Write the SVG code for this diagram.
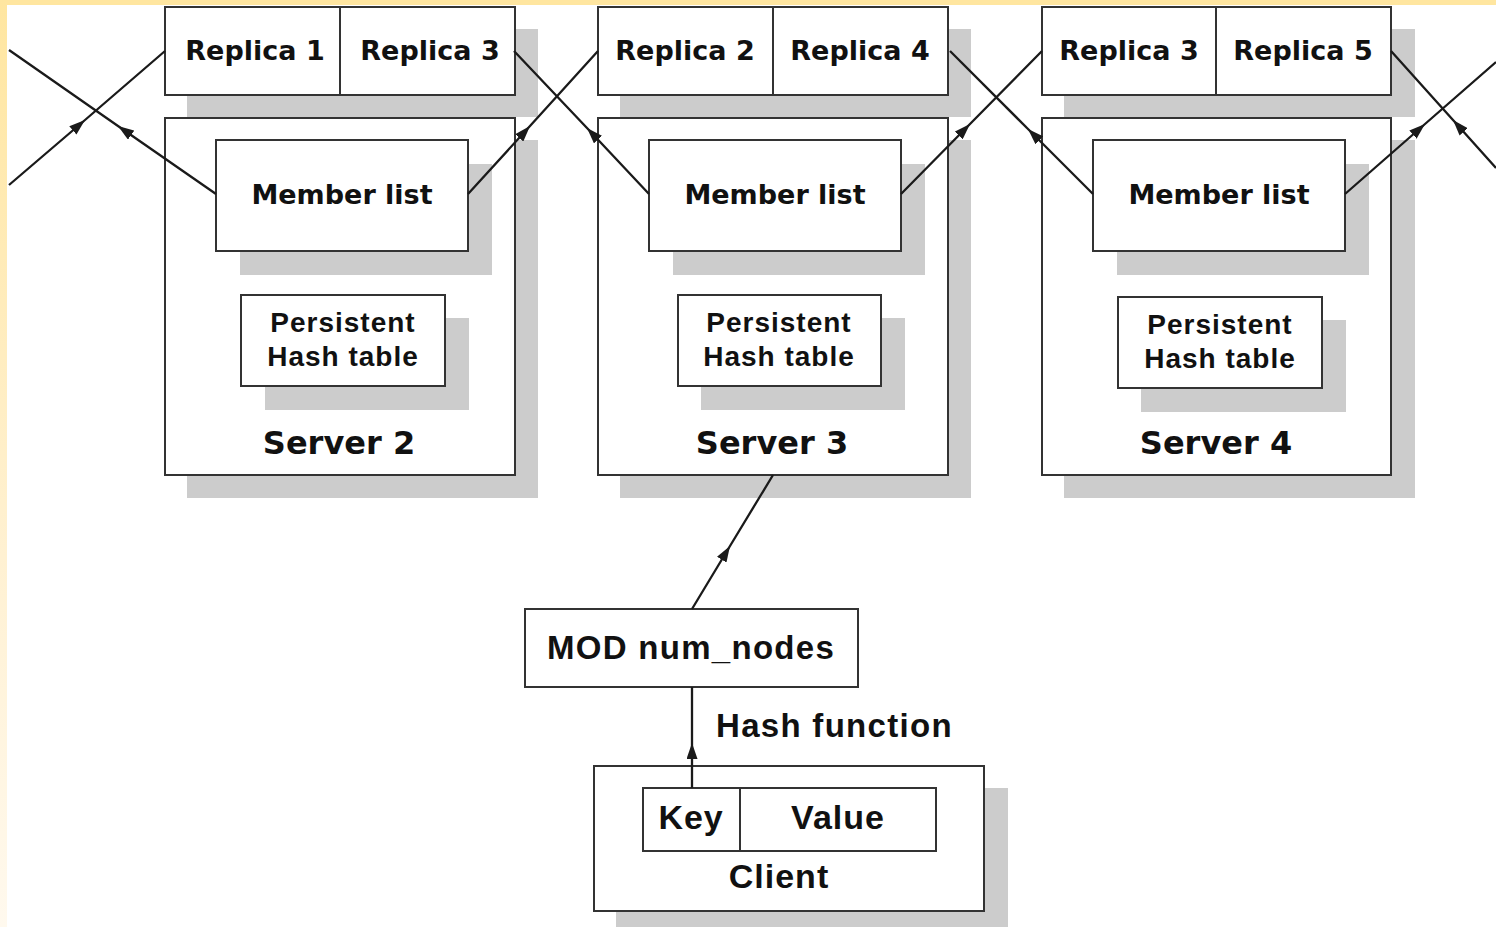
<svg xmlns="http://www.w3.org/2000/svg" width="1496" height="927" viewBox="0 0 1496 927">
<defs>
<linearGradient id="lg" x1="0" y1="0" x2="0" y2="1">
<stop offset="0" stop-color="#FFE6A0"/>
<stop offset="0.6" stop-color="#FFF1D2"/>
<stop offset="1" stop-color="#FFF9EE"/>
</linearGradient>
<marker id="ah" viewBox="0 0 16 11" markerWidth="16" markerHeight="11" refX="16" refY="5.5" orient="auto" markerUnits="userSpaceOnUse">
<path d="M0,0 L16,5.5 L0,11 z" fill="#1a1a1a"/>
</marker>
</defs>
<style>
.box{fill:#fff;stroke:#333;stroke-width:2}
.sh{fill:#cccccc}
.v{font-family:"DejaVu Sans",Verdana,sans-serif;font-weight:bold;fill:#111;text-anchor:middle}
.a{font-family:"Liberation Sans",Arial,sans-serif;font-weight:bold;fill:#111;text-anchor:middle}
.ln{fill:none;stroke:#1a1a1a;stroke-width:2.3;marker-mid:url(#ah)}
</style>
<rect width="1496" height="927" fill="#fff"/>
<rect x="0" y="0" width="1496" height="5" fill="#FFE6A0"/>
<rect x="0" y="0" width="7" height="927" fill="url(#lg)"/>

<g id="server2">
<rect class="sh" x="187" y="29" width="351" height="88"/>
<rect class="sh" x="187" y="140" width="351" height="358"/>
<rect class="box" x="165" y="118" width="350" height="357"/>
<rect class="box" x="165" y="7" width="175" height="88"/>
<rect class="box" x="340" y="7" width="175" height="88"/>
<text class="v" x="255" y="60" font-size="27">Replica 1</text>
<text class="v" x="430" y="60" font-size="27">Replica 3</text>
<rect class="sh" x="240" y="164" width="252" height="111"/>
<rect class="box" x="216" y="140" width="252" height="111"/>
<text class="v" x="342" y="204" font-size="27">Member list</text>
<rect class="sh" x="265" y="318" width="204" height="92"/>
<rect class="box" x="241" y="295" width="204" height="91"/>
<text class="a" x="343" y="332" font-size="28" letter-spacing="1">Persistent</text>
<text class="a" x="343" y="366" font-size="28" letter-spacing="1">Hash table</text>
<text class="v" x="339" y="454" font-size="32">Server 2</text>
</g>

<g id="server3">
<rect class="sh" x="620" y="29" width="351" height="88"/>
<rect class="sh" x="620" y="140" width="351" height="358"/>
<rect class="box" x="598" y="118" width="350" height="357"/>
<rect class="box" x="598" y="7" width="175" height="88"/>
<rect class="box" x="773" y="7" width="175" height="88"/>
<text class="v" x="685" y="60" font-size="27">Replica 2</text>
<text class="v" x="860" y="60" font-size="27">Replica 4</text>
<rect class="sh" x="673" y="164" width="252" height="111"/>
<rect class="box" x="649" y="140" width="252" height="111"/>
<text class="v" x="775" y="204" font-size="27">Member list</text>
<rect class="sh" x="701" y="318" width="204" height="92"/>
<rect class="box" x="678" y="295" width="203" height="91"/>
<text class="a" x="779" y="332" font-size="28" letter-spacing="1">Persistent</text>
<text class="a" x="779" y="366" font-size="28" letter-spacing="1">Hash table</text>
<text class="v" x="772" y="454" font-size="32">Server 3</text>
</g>

<g id="server4">
<rect class="sh" x="1064" y="29" width="351" height="88"/>
<rect class="sh" x="1064" y="140" width="351" height="358"/>
<rect class="box" x="1042" y="118" width="349" height="357"/>
<rect class="box" x="1042" y="7" width="174" height="88"/>
<rect class="box" x="1216" y="7" width="175" height="88"/>
<text class="v" x="1129" y="60" font-size="27">Replica 3</text>
<text class="v" x="1303" y="60" font-size="27">Replica 5</text>
<rect class="sh" x="1117" y="164" width="252" height="111"/>
<rect class="box" x="1093" y="140" width="252" height="111"/>
<text class="v" x="1219" y="204" font-size="27">Member list</text>
<rect class="sh" x="1141" y="320" width="205" height="92"/>
<rect class="box" x="1118" y="297" width="204" height="91"/>
<text class="a" x="1220" y="334" font-size="28" letter-spacing="1">Persistent</text>
<text class="a" x="1220" y="368" font-size="28" letter-spacing="1">Hash table</text>
<text class="v" x="1216" y="454" font-size="32">Server 4</text>
</g>

<g id="mod">
<rect class="box" x="525" y="609" width="333" height="78"/>
<text class="a" x="691" y="659" font-size="33" letter-spacing="1.3">MOD num_nodes</text>
</g>

<g id="hashlabel">
<text class="a" x="716" y="737" font-size="33" letter-spacing="1.3" style="text-anchor:start">Hash function</text>
</g>

<g id="client">
<rect class="sh" x="616" y="788" width="392" height="145"/>
<rect class="box" x="594" y="766" width="390" height="145"/>
<rect class="box" x="643" y="788" width="97" height="63"/>
<rect class="box" x="740" y="788" width="196" height="63"/>
<text class="a" x="691" y="829" font-size="34" letter-spacing="0.8">Key</text>
<text class="a" x="838" y="829" font-size="34" letter-spacing="1">Value</text>
<text class="a" x="779" y="888" font-size="34" letter-spacing="1">Client</text>
</g>

<g id="connectors">
<path class="ln" d="M216,194 L118,126 L9,50"/>
<path class="ln" d="M9,185 L85,120 L165,51"/>
<path class="ln" d="M649,194 L587,128 L514,51"/>
<path class="ln" d="M468,194 L530,126 L598,51"/>
<path class="ln" d="M1093,194 L1028,129 L950,51"/>
<path class="ln" d="M901,194 L970,124 L1042,51"/>
<path class="ln" d="M1496,168 L1453,120 L1391,51"/>
<path class="ln" d="M1345,194 L1425,124 L1496,62"/>
<path class="ln" d="M692,609 L730,546 L773,475"/>
<path class="ln" d="M692,788 L692,743 L692,687"/>
</g>
</svg>
